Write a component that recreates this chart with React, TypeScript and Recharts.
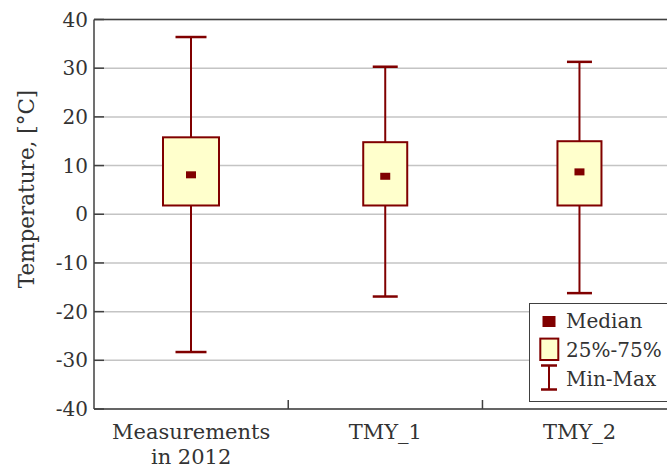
import React from "react";
import { ComposedChart, Bar, XAxis, YAxis, CartesianGrid, ReferenceLine, Legend } from "recharts";

const categories = ["Measurements in 2012", "TMY_1", "TMY_2"];
const minValues = [-28.3, -16.9, -16.2];
const q1Values = [1.8, 1.8, 1.8];
const medianValues = [8.1, 7.8, 8.7];
const q3Values = [15.8, 14.8, 15.0];
const maxValues = [36.4, 30.3, 31.3];
const yTicks = [-40, -30, -20, -10, 0, 10, 20, 30, 40];
const legendLabels = ["Median", "25%-75%", "Min-Max"];

const boxWidths = [56, 44, 44];
const capWidths = [31, 25, 25];

const DARK_RED = "#800000";
const BOX_FILL = "#FFFFCC";
const AXIS = "#404040";
const GRID = "#c4c4c4";
const TEXT = "#333333";
const FONT = "'DejaVu Serif', serif";

const data = categories.map((cat, i) => ({
  cat,
  box: [q1Values[i], q3Values[i]],
  min: minValues[i],
  q1: q1Values[i],
  median: medianValues[i],
  q3: q3Values[i],
  max: maxValues[i],
}));

function BoxShape(props: any) {
  const { x, y, width, height, payload, index } = props;
  const top = Math.min(y, y + height);
  const h = Math.abs(height);
  const ppu = h / (payload.q3 - payload.q1);
  const py = (v: number) => top + (payload.q3 - v) * ppu;
  const cx = x + width / 2;
  const bw = boxWidths[index];
  const cw = capWidths[index];
  const yMax = py(payload.max);
  const yMin = py(payload.min);
  const yMed = py(payload.median);
  return (
    <g>
      <line x1={cx} x2={cx} y1={yMax} y2={yMin} stroke={DARK_RED} strokeWidth={2} />
      <line x1={cx - cw / 2} x2={cx + cw / 2} y1={yMax} y2={yMax} stroke={DARK_RED} strokeWidth={2.5} />
      <line x1={cx - cw / 2} x2={cx + cw / 2} y1={yMin} y2={yMin} stroke={DARK_RED} strokeWidth={2.5} />
      <rect x={cx - bw / 2} y={top} width={bw} height={h} fill={BOX_FILL} stroke={DARK_RED} strokeWidth={2} />
      <rect x={cx - 5} y={yMed - 3.5} width={10} height={7} fill={DARK_RED} />
    </g>
  );
}

function XTick(props: any) {
  const { x, y, payload, index, width, visibleTicksCount } = props;
  const n = visibleTicksCount || categories.length;
  const band = width ? width / n : 0;
  const lines = String(payload.value).split(/ (?=in )/);
  return (
    <g>
      {band > 0 && index < n - 1 && (
        <line x1={x + band / 2} x2={x + band / 2} y1={y} y2={y - 9} stroke={AXIS} strokeWidth={1.5} />
      )}
      <text x={x} y={y} textAnchor="middle" fontFamily={FONT} fontSize={21} fill={TEXT}>
        {lines.map((l, i) => (
          <tspan key={i} x={x} dy={i === 0 ? 30 : 24.5}>
            {l}
          </tspan>
        ))}
      </text>
    </g>
  );
}

function YLabel() {
  return (
    <text
      x={34}
      y={189}
      transform="rotate(-90 34 189)"
      textAnchor="middle"
      fontFamily={FONT}
      fontSize={21.5}
      fill={TEXT}
    >
      Temperature, [°C]
    </text>
  );
}

function LegendBox() {
  const rowY = [25.3, 54.3, 83.3];
  return (
    <svg width={160} height={100} style={{ display: "block" }}>
      <rect x={0.5} y={0.5} width={170} height={98} fill="#ffffff" stroke={AXIS} strokeWidth={1} />
      <rect x={13.5} y={13} width={13} height={11} fill={DARK_RED} />
      <rect x={11.3} y={35.6} width={18} height={21.4} fill={BOX_FILL} stroke={DARK_RED} strokeWidth={2} />
      <line x1={20} x2={20} y1={62.5} y2={86.5} stroke={DARK_RED} strokeWidth={2} />
      <line x1={12} x2={28} y1={62.5} y2={62.5} stroke={DARK_RED} strokeWidth={2.5} />
      <line x1={12} x2={28} y1={86.5} y2={86.5} stroke={DARK_RED} strokeWidth={2.5} />
      {legendLabels.map((l, i) => (
        <text key={l} x={37} y={rowY[i]} fontFamily={FONT} fontSize={20} fill={TEXT}>
          {l}
        </text>
      ))}
    </svg>
  );
}

export default function App() {
  return (
    <div
      style={{
        position: "absolute",
        left: 0,
        top: 0,
        width: 667,
        height: 469,
        overflow: "hidden",
        background: "#ffffff",
      }}
    >
      <ComposedChart width={700} height={469} data={data} margin={{ top: 19.5, right: 23.3, bottom: 0, left: 0 }}>
        <CartesianGrid horizontal vertical={false} stroke={GRID} strokeWidth={1.5} />
        <XAxis
          dataKey="cat"
          height={60}
          interval={0}
          tickLine={false}
          tickSize={0}
          tickMargin={0}
          axisLine={{ stroke: AXIS, strokeWidth: 1.5 }}
          tick={<XTick />}
        />
        <YAxis
          width={94}
          type="number"
          domain={[-40, 40]}
          ticks={yTicks}
          interval={0}
          tickSize={-10}
          tickMargin={16}
          axisLine={{ stroke: AXIS, strokeWidth: 1.5 }}
          tickLine={{ stroke: AXIS, strokeWidth: 1.5 }}
          tick={{ fill: TEXT, fontSize: 20, fontFamily: FONT }}
          label={<YLabel />}
        />
        <ReferenceLine y={40} stroke={AXIS} strokeWidth={1.5} />
        <Bar dataKey="box" barSize={56} shape={<BoxShape />} isAnimationActive={false} legendType="none" />
        <Legend
          layout="vertical"
          align="center"
          verticalAlign="middle"
          wrapperStyle={{ left: 529, top: 302.5, width: 160, height: 100 }}
          content={() => <LegendBox />}
        />
      </ComposedChart>
    </div>
  );
}
